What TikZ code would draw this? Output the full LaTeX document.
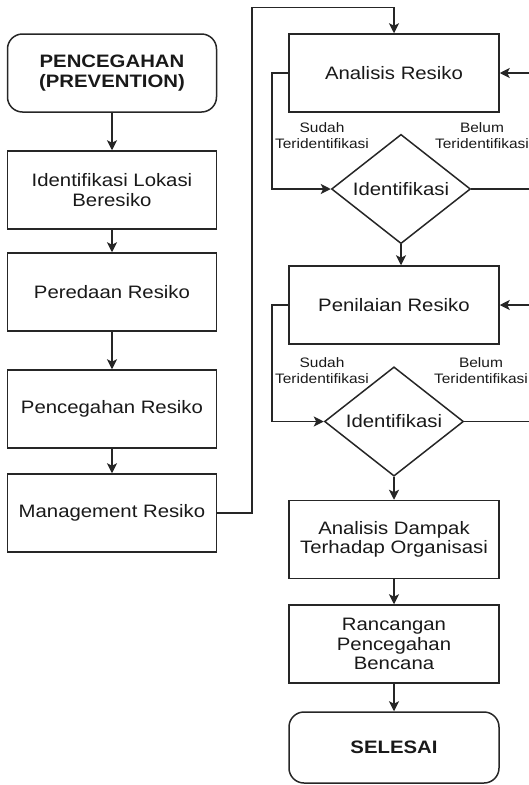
\documentclass[tikz,border=0pt]{standalone}
\usepackage{fontspec}
\setmainfont[FakeStretch=1.13]{Liberation Sans}
\usetikzlibrary{shapes.geometric,arrows.meta}
\tikzset{
  box/.style={draw=black!85, line width=1.5pt, rectangle, minimum width=209pt, minimum height=78pt,
    inner sep=0pt, align=center, font=\fontsize{18}{19.5}\selectfont, text=black!90},
  rbox/.style={box, rounded corners=15pt},
  decide/.style={draw=black!85, line width=1.5pt, diamond, minimum width=139pt, minimum height=103pt,
    inner sep=0pt, align=center, font=\fontsize{18}{19.5}\selectfont, text=black!90},
  lbl/.style={align=center, font=\fontsize{13.7}{15.5}\selectfont, text=black!90, inner sep=0pt},
  conn/.style={draw=black!85, line width=1.5pt},
  arr/.style={conn, -{Stealth[length=10pt,width=10pt,inset=2.5pt]}},
}
\begin{document}
\begin{tikzpicture}[x=1pt,y=-1pt]
\useasboundingbox (0,0) rectangle (529,785);
% left column
\node[rbox] (start) at (112,73) {\bfseries PENCEGAHAN\\\bfseries (PREVENTION)};
\node[box] (idlok) at (112,190) {Identifikasi Lokasi\\Beresiko};
\node[box] (pere) at (112,292) {Peredaan Resiko};
\node[box] (pcg) at (112,409) {Pencegahan Resiko};
\node[box] (mgmt) at (112,513) {Management Resiko};
% right column
\node[box, minimum width=210pt] (ana) at (394,73) {Analisis Resiko};
\node[decide] (d1) at (401,189) {Identifikasi};
\node[box, minimum width=210pt] (pen) at (394,305) {Penilaian Resiko};
\node[decide] (d2) at (394,421.5) {Identifikasi};
\node[box, minimum width=210pt] (dmp) at (394,539.5) {Analisis Dampak\\Terhadap Organisasi};
\node[box, minimum width=210pt] (ran) at (394,644) {Rancangan\\Pencegahan\\Bencana};
\node[rbox, minimum width=210pt, minimum height=71pt] (sel) at (394,747.5) {\bfseries SELESAI};
% labels
\node[lbl] (s1l) at (322,135.5) {Sudah\\Teridentifikasi};
\node[lbl] (b1l) at (482,135.5) {Belum\\Teridentifikasi};
\node[lbl] (s2l) at (322,370.5) {Sudah\\Teridentifikasi};
\node[lbl] (b2l) at (481,370.5) {Belum\\Teridentifikasi};
% coordinates
\coordinate (top) at (252,7.5);
\coordinate (s1) at (272,189);
\coordinate (b1) at (534,73);
\coordinate (s2) at (272,421.5);
\coordinate (b2) at (534,305);
% connectors
\draw[arr] (start) -- (idlok);
\draw[arr] (idlok) -- (pere);
\draw[arr] (pere) -- (pcg);
\draw[arr] (pcg) -- (mgmt);
\draw[arr] (mgmt.east) -| (top) -| (ana.north);
\draw[arr] (ana.west) -| (s1) -- (d1.west);
\draw[arr] (d1.east) -| (b1) -- (ana.east);
\draw[arr] (d1.south) -- (d1.south |- pen.north);
\draw[arr] (pen.west) -| (s2) -- (d2.west);
\draw[arr] (d2.east) -| (b2) -- (pen.east);
\draw[arr] (d2.south) -- (d2.south |- dmp.north);
\draw[arr] (dmp) -- (ran);
\draw[arr] (ran) -- (sel);
\end{tikzpicture}
\end{document}
